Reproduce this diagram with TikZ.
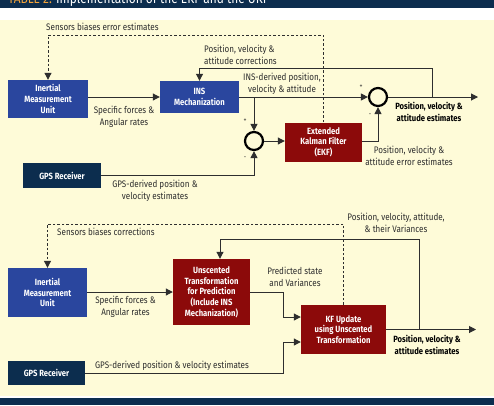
\documentclass[tikz,border=0pt]{standalone}
\usepackage{fontspec}
\setmainfont{Fira Sans}[FakeStretch=0.85]
\usepackage{xcolor}
\usetikzlibrary{
    arrows.meta,
    positioning
}
\definecolor{paper}{HTML}{FEFBD8}
\definecolor{navy}{HTML}{0C2D4E}
\definecolor{boxblue}{HTML}{2A469E}
\definecolor{boxred}{HTML}{8C0A0A}
\definecolor{ink}{HTML}{2E2E2E}
\definecolor{titleorange}{HTML}{F2A33A}

\tikzset{
    blk/.style={text=white, font=\bfseries\fontsize{9}{10.7}\selectfont, align=center, inner sep=1pt},
    bluebox/.style={blk, fill=boxblue},
    redbox/.style={blk, fill=boxred},
    gpsbox/.style={blk, fill=navy},
    lbl/.style={text=ink, font=\fontsize{9.5}{12}\selectfont, align=center, inner sep=0pt},
    boldlbl/.style={lbl, text=black, font=\bfseries\fontsize{9}{12}\selectfont},
    sgn/.style={text=ink, font=\fontsize{7}{7}\selectfont, inner sep=0pt},
    sumpt/.style={circle, draw=black, line width=2.2pt, minimum size=18pt, inner sep=0pt},
    flow/.style={draw=ink, line width=1pt, -{Triangle[length=7pt,width=7pt]}},
    dashln/.style={flow, dash pattern=on 2.5pt off 2pt}
}

\begin{document}
\begin{tikzpicture}[x=1pt,y=-1pt]
    \useasboundingbox (0,0) rectangle (494,405);
    % frame
    \fill[paper] (0,20) rectangle (494,396);
    \fill[navy] (0,0) rectangle (494,8);
    \fill[navy] (0,398) rectangle (494,405);
    \begin{scope}
        \clip (0,0) rectangle (494,8);
        \node[anchor=base west, inner sep=0pt, text=white, font=\fontsize{14}{14}\selectfont] (title) at (8,3)
            {{\color{titleorange}TABLE 2:} Implementation of the EKF and the UKF};
    \end{scope}

    % EKF
    \node[bluebox, minimum width=80pt, minimum height=38pt] (imu) at (48,99) {Inertial\\Measurement\\Unit};
    \node[bluebox, minimum width=79pt, minimum height=32pt] (ins) at (199.5,97) {INS\\Mechanization};
    \node[redbox, minimum width=77pt, minimum height=39pt] (ekf) at (323.5,142) {Extended\\Kalman Filter\\(EKF)};
    \node[gpsbox, minimum width=78pt, minimum height=25pt] (gps) at (62,175.5) {GPS Receiver};
    \node[sumpt] (s1) at (378,97) {};
    \node[sumpt] (s2) at (254,141) {};
    \coordinate (top1) at (0,35);
    \coordinate (c1) at (432,68);
    \coordinate (out1) at (478,97);

    \draw[dashln] (ekf.north) |- (imu.north |- top1) -- (imu.north);
    \draw[flow] (imu.east |- ins.west) -- (ins.west);
    \draw[flow] (c1 |- s1) -- (c1) -| (ins.north);
    \draw[flow] (ins.east) -- (s1.west);
    \draw[flow] (s2.north |- ins.east) -- (s2.north);
    \draw[flow] (s2.east) -- (s2.east -| ekf.west);
    \draw[flow] (ekf.east |- s2.east) -| (s1.south);
    \draw[flow] (gps.east) -| (s2.south);
    \draw[flow] (s1.east) -- (out1);

    \node[sgn] (p1) at (361,87) {+};
    \node[sgn] (m1) at (370,115) {-};
    \node[sgn] (p2) at (245,121) {+};
    \node[sgn] (m2) at (245,158) {-};

    \node[lbl, anchor=west] (l1) at (46,27) {Sensors biases error estimates};
    \node[lbl, anchor=west, align=left] (l2) at (204,55) {Position, velocity \&\\attitude corrections};
    \node[lbl] (l3) at (282,84) {INS-derived position,\\velocity \& attitude};
    \node[lbl] (l4) at (124,117) {Specific forces \&\\Angular rates};
    \node[lbl] (l5) at (155,191) {GPS-derived position \&\\velocity estimates};
    \node[lbl] (l6) at (409,156) {Position, velocity \&\\attitude error estimates};
    \node[boldlbl] (l7) at (429,112) {Position, velocity \&\\attitude estimates};

    % UKF
    \node[bluebox, minimum width=79pt, minimum height=49pt] (imu2) at (47.5,292.5) {Inertial\\Measurement\\Unit};
    \node[redbox, minimum width=77pt, minimum height=66pt] (ut) at (211.5,292) {Unscented\\Transformation\\for Prediction\\(Include INS\\Mechanization)};
    \node[redbox, minimum width=85pt, minimum height=49pt] (kf) at (343.5,329.5) {KF Update\\using Unscented\\Transformation};
    \node[gpsbox, minimum width=77pt, minimum height=24pt] (gps2) at (46.5,373) {GPS Receiver};
    \coordinate (top2) at (0,224);
    \coordinate (c2) at (419,239);
    \coordinate (c3) at (220,239);
    \coordinate (j1) at (283,317);
    \coordinate (j2) at (283,342);
    \coordinate (out2) at (476,329.5);

    \draw[dashln] (kf.north) |- (imu2.north |- top2) -- (imu2.north);
    \draw[flow] (imu2.east |- ut.west) -- (ut.west);
    \draw[flow] (c2 |- kf.east) -- (c2) -- (c3) -- (c3 |- ut.north);
    \draw[flow] (ut.east) -| (j1) -- (j1 -| kf.west);
    \draw[flow] (gps2.east) -| (j2) -- (j2 -| kf.west);
    \draw[flow] (kf.east) -- (out2);

    \node[lbl, anchor=west] (k1) at (57,232) {Sensors biases corrections};
    \node[lbl] (k2) at (125.5,307) {Specific forces \&\\Angular rates};
    \node[lbl] (k3) at (396,223) {Position, velocity, attitude,\\\& their Variances};
    \node[lbl] (k4) at (295,276.5) {Predicted state\\and Variances};
    \node[lbl] (k5) at (172,366) {GPS-derived position \& velocity estimates};
    \node[boldlbl] (k6) at (427,345) {Position, velocity \&\\attitude estimates};
\end{tikzpicture}
\end{document}
